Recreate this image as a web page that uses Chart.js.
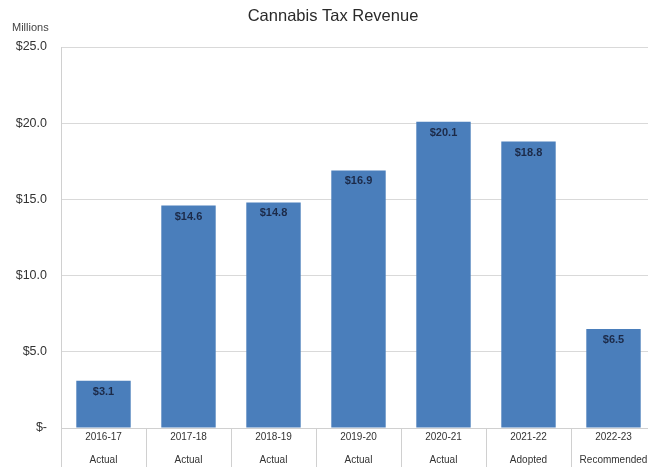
<!DOCTYPE html>
<html>
<head>
<meta charset="utf-8">
<script src="https://cdn.jsdelivr.net/npm/chart.js@4/dist/chart.umd.min.js"></script>
<style>
  html, body { margin: 0; padding: 0; background: #fff; overflow: hidden; }
  #wrap { width: 656px; height: 467px; position: relative; }
</style>
</head>
<body>
<div id="wrap"><canvas id="c" width="656" height="467"></canvas></div>
<script>
const chartTitle = 'Cannabis Tax Revenue';
const unitLabel = 'Millions';
const years = ['2016-17', '2017-18', '2018-19', '2019-20', '2020-21', '2021-22', '2022-23'];
const stages = ['Actual', 'Actual', 'Actual', 'Actual', 'Actual', 'Adopted', 'Recommended'];
const revenue = [3.1, 14.6, 14.8, 16.9, 20.1, 18.8, 6.5];
const yTicks = [0, 5, 10, 15, 20, 25];

const labels = years.map((y, i) => [y, stages[i]]);

function fmtMoney(v) {
  return v === 0 ? '$-' : '$' + v.toFixed(1);
}

const textPlugin = {
  id: 'texts',
  afterDraw(chart) {
    const ctx = chart.ctx;
    ctx.save();
    ctx.fillStyle = '#2a2a2a';
    ctx.font = '16.5px "Liberation Sans", Arial, sans-serif';
    ctx.textAlign = 'center';
    ctx.textBaseline = 'middle';
    ctx.fillText(chartTitle, 333, 16);
    ctx.font = '11px "Liberation Sans", Arial, sans-serif';
    ctx.fillStyle = '#444';
    ctx.textAlign = 'left';
    ctx.fillText(unitLabel, 12, 28);
    // data labels
    const meta = chart.getDatasetMeta(0);
    ctx.font = 'bold 11px "Liberation Sans", Arial, sans-serif';
    ctx.fillStyle = '#1c2a48';
    ctx.textAlign = 'center';
    meta.data.forEach((bar, i) => {
      ctx.fillText(fmtMoney(revenue[i]), bar.x, bar.y + 11);
    });
    ctx.restore();
  }
};

new Chart(document.getElementById('c'), {
  type: 'bar',
  data: {
    labels: labels,
    datasets: [{
      data: revenue,
      backgroundColor: '#4a7ebb',
      borderWidth: 0,
      barPercentage: 0.64,
      categoryPercentage: 1.0
    }]
  },
  options: {
    responsive: false,
    animation: false,
    layout: { padding: { top: 47, left: 12, right: 0, bottom: 0 } },
    plugins: {
      legend: { display: false },
      title: { display: false },
      tooltip: { enabled: false }
    },
    scales: {
      x: {
        afterFit(scale) { scale.height = 39; },
        grid: {
          offset: true,
          drawOnChartArea: false,
          drawTicks: true,
          tickLength: 40,
          color: '#d0d0d0',
          lineWidth: 1
        },
        border: { display: true, color: '#d0d0d0' },
        ticks: {
          padding: -42,
          color: '#333',
          maxRotation: 0,
          autoSkip: false,
          font: { family: '"Liberation Sans", Arial, sans-serif', size: 10, lineHeight: 2.3 }
        }
      },
      y: {
        min: 0,
        max: 25,
        afterFit(scale) { scale.width = 49; },
        afterBuildTicks(scale) { scale.ticks = yTicks.map(v => ({ value: v })); },
        grid: { color: '#d9d9d9', drawTicks: false, lineWidth: 1 },
        border: { display: true, color: '#d0d0d0' },
        ticks: {
          padding: 14,
          color: '#333',
          font: { family: '"Liberation Sans", Arial, sans-serif', size: 12.5 },
          callback: (v) => fmtMoney(v)
        }
      }
    }
  },
  plugins: [textPlugin]
});
</script>
</body>
</html>
